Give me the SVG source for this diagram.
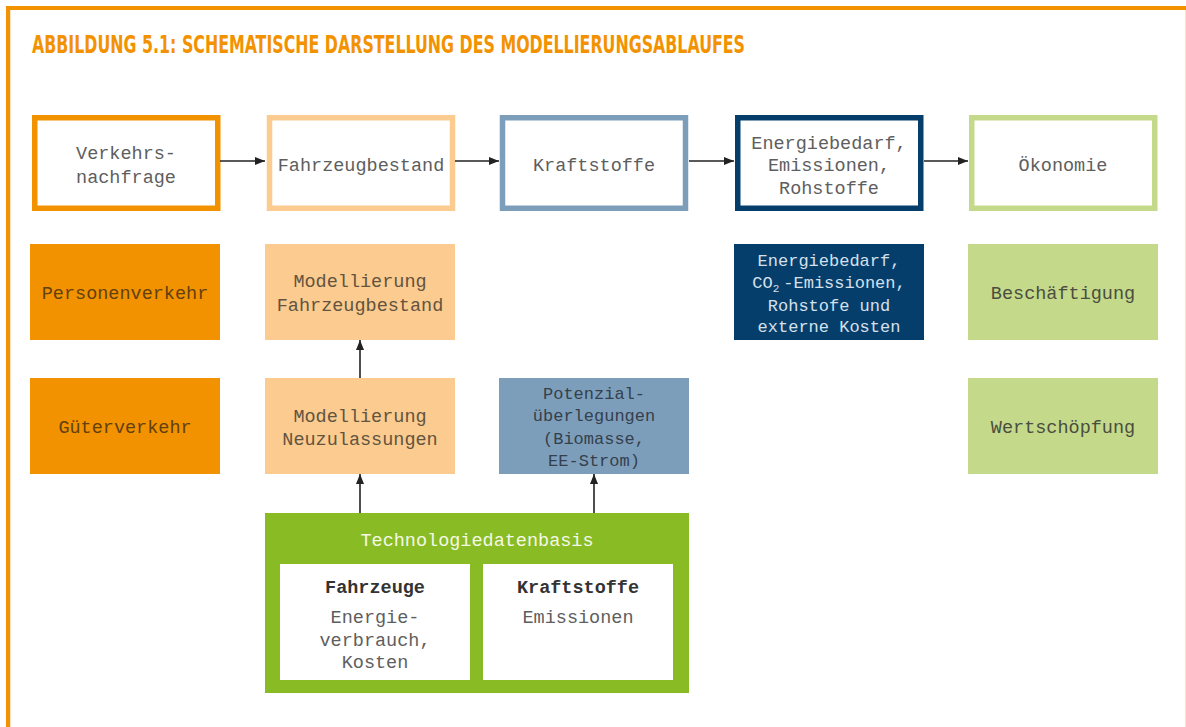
<svg xmlns="http://www.w3.org/2000/svg" width="1186" height="727" viewBox="0 0 1186 727">
<style>
.t{font-family:"Liberation Mono","DejaVu Sans Mono",monospace;font-size:18.5px;text-anchor:middle;fill:#5e5e5e}
.s{font-size:17px}
.b{font-weight:bold;fill:#333}
.title{font-family:"Liberation Sans Narrow","DejaVu Sans Condensed","Liberation Sans",sans-serif;font-weight:bold;font-size:24px;fill:#F39200}
.conn{stroke:#222;stroke-width:1.6;fill:none}
</style>
<defs>
<marker id="ah" viewBox="0 0 10 8" refX="10" refY="4" markerWidth="10" markerHeight="8" markerUnits="userSpaceOnUse" orient="auto">
<path d="M0,0 L10,4 L0,8 Z" fill="#222"/>
</marker>
</defs>
<rect width="1186" height="727" fill="#fff"/>
<g id="frame">
<rect x="6" y="6" width="1180" height="4" fill="#F39200"/>
<rect x="6" y="6" width="4" height="721" fill="#F39200"/>
<line x1="10.5" y1="10" x2="10.5" y2="727" stroke="#FBE3C5" stroke-width="1"/>
<line x1="1185.5" y1="10" x2="1185.5" y2="727" stroke="#FBE3C5" stroke-width="1"/>
</g>
<text class="title" x="32" y="52.5" textLength="713" lengthAdjust="spacingAndGlyphs">ABBILDUNG 5.1: SCHEMATISCHE DARSTELLUNG DES MODELLIERUNGSABLAUFES</text>

<g id="verkehrsnachfrage">
<rect x="34.75" y="117.75" width="183" height="90.5" fill="#fff" stroke="#F39200" stroke-width="5.5"/>
<text class="t" x="126" y="159">Verkehrs-</text>
<text class="t" x="126" y="183">nachfrage</text>
</g>
<g id="fahrzeugbestand">
<rect x="269.5" y="117.75" width="183" height="90.5" fill="#fff" stroke="#FCCB8F" stroke-width="5.5"/>
<text class="t" x="361" y="171">Fahrzeugbestand</text>
</g>
<g id="kraftstoffe">
<rect x="502.5" y="117.75" width="183" height="90.5" fill="#fff" stroke="#7D9EBB" stroke-width="5.5"/>
<text class="t" x="594" y="171">Kraftstoffe</text>
</g>
<g id="energiebedarf">
<rect x="737.75" y="117.75" width="183" height="90.5" fill="#fff" stroke="#063E6B" stroke-width="5.5"/>
<text class="t" x="829" y="149">Energiebedarf,</text>
<text class="t" x="829" y="171">Emissionen,</text>
<text class="t" x="829" y="194">Rohstoffe</text>
</g>
<g id="oekonomie">
<rect x="971.75" y="117.75" width="183" height="90.5" fill="#fff" stroke="#C5D98B" stroke-width="5.5"/>
<text class="t" x="1063" y="171">Ökonomie</text>
</g>

<g id="personenverkehr">
<rect x="30" y="244" width="190" height="96" fill="#F39200"/>
<text class="t" x="125" y="298.5" style="fill:#624010">Personenverkehr</text>
</g>
<g id="modellierung-fahrzeugbestand">
<rect x="265" y="244" width="190" height="96" fill="#FCCB8F"/>
<text class="t" x="360" y="286.5" style="fill:#62543f">Modellierung</text>
<text class="t" x="360" y="310.5" style="fill:#62543f">Fahrzeugbestand</text>
</g>
<g id="energiebedarf-co2">
<rect x="734" y="244" width="190" height="96" fill="#063E6B"/>
<text class="t s" x="829" y="266" style="fill:#d5e0ec">Energiebedarf,</text>
<text class="t s" x="829" y="288" style="fill:#d5e0ec">CO<tspan font-size="11" dy="4">2</tspan><tspan dy="-4" dx="4">-Emissionen,</tspan></text>
<text class="t s" x="829" y="311" style="fill:#d5e0ec">Rohstofe und</text>
<text class="t s" x="829" y="332" style="fill:#d5e0ec">externe Kosten</text>
</g>
<g id="beschaeftigung">
<rect x="968" y="244" width="190" height="96" fill="#C5D98B"/>
<text class="t" x="1063" y="298.5" style="fill:#4a4e3e">Beschäftigung</text>
</g>

<g id="gueterverkehr">
<rect x="30" y="378" width="190" height="96" fill="#F39200"/>
<text class="t" x="125" y="432.5" style="fill:#624010">Güterverkehr</text>
</g>
<g id="modellierung-neuzulassungen">
<rect x="265" y="378" width="190" height="96" fill="#FCCB8F"/>
<text class="t" x="360" y="421.5" style="fill:#62543f">Modellierung</text>
<text class="t" x="360" y="445" style="fill:#62543f">Neuzulassungen</text>
</g>
<g id="potenzial">
<rect x="499" y="378" width="190" height="96" fill="#7D9EBB"/>
<text class="t s" x="594" y="399" style="fill:#34404c">Potenzial-</text>
<text class="t s" x="594" y="421" style="fill:#34404c">überlegungen</text>
<text class="t s" x="594" y="444" style="fill:#34404c">(Biomasse,</text>
<text class="t s" x="594" y="466" style="fill:#34404c">EE-Strom)</text>
</g>
<g id="wertschoepfung">
<rect x="968" y="378" width="190" height="96" fill="#C5D98B"/>
<text class="t" x="1063" y="432.5" style="fill:#4a4e3e">Wertschöpfung</text>
</g>

<g id="technologiedatenbasis">
<rect x="265" y="513" width="424" height="180" fill="#89BC24"/>
<text class="t" x="477" y="546" style="fill:#f4f8e6">Technologiedatenbasis</text>
<g id="fahrzeuge">
<rect x="280" y="564" width="190" height="116" fill="#fff"/>
<text class="t b" x="375" y="593">Fahrzeuge</text>
<text class="t" x="375" y="623">Energie-</text>
<text class="t" x="375" y="646">verbrauch,</text>
<text class="t" x="375" y="668">Kosten</text>
</g>
<g id="kraftstoffe-db">
<rect x="483" y="564" width="190" height="116" fill="#fff"/>
<text class="t b" x="578" y="593">Kraftstoffe</text>
<text class="t" x="578" y="623">Emissionen</text>
</g>
</g>

<g id="connectors">
<line class="conn" x1="220" y1="161" x2="265" y2="161" marker-end="url(#ah)"/>
<line class="conn" x1="455" y1="161" x2="499" y2="161" marker-end="url(#ah)"/>
<line class="conn" x1="689" y1="161" x2="734" y2="161" marker-end="url(#ah)"/>
<line class="conn" x1="924" y1="161" x2="968" y2="161" marker-end="url(#ah)"/>
<line class="conn" x1="360" y1="378" x2="360" y2="340" marker-end="url(#ah)"/>
<line class="conn" x1="360" y1="513" x2="360" y2="474" marker-end="url(#ah)"/>
<line class="conn" x1="594" y1="513" x2="594" y2="474" marker-end="url(#ah)"/>
</g>
</svg>
